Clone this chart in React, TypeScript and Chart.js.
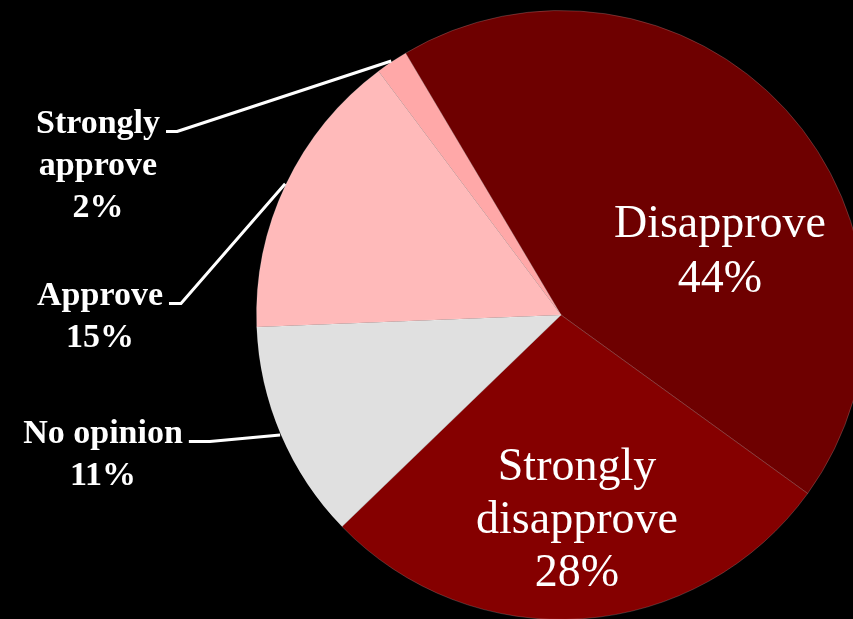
import React, { useEffect, useRef } from "react";
import { Chart, registerables } from "chart.js";

Chart.register(...registerables);

// ---- data ----
const categories = ["Disapprove", "Strongly disapprove", "No opinion", "Approve", "Strongly approve"];
const shares = [43.5, 27.8, 11.6, 15.4, 1.7];
const percentLabels = ["44%", "28%", "11%", "15%", "2%"];
const labelLines = [["Disapprove"], ["Strongly", "disapprove"], ["No opinion"], ["Approve"], ["Strongly", "approve"]];
const sliceColors = ["#6e0000", "#850000", "#e0e0e0", "#ffbaba", "#ffa8a8"];

const insideFont = "46px 'Liberation Serif', 'DejaVu Serif', serif";
const outsideFont = "bold 34px 'Liberation Serif', 'DejaVu Serif', serif";

// label placement relative to pie centre (first-line baseline), leader = elbow length
const labelLayout = [
  { dx: 159, dy: -78, lineHeight: 55, font: insideFont, leader: 0 },
  { dx: 16, dy: 165, lineHeight: 53, font: insideFont, leader: 0 },
  { dx: -458, dy: 128, lineHeight: 42, font: outsideFont, leader: 21 },
  { dx: -461, dy: -10, lineHeight: 42, font: outsideFont, leader: 12 },
  { dx: -463, dy: -182, lineHeight: 42, font: outsideFont, leader: 11 },
];

const labelPlugin = {
  id: "sliceLabels",
  afterDatasetsDraw(chart: any) {
    const ctx = chart.ctx as CanvasRenderingContext2D;
    const meta = chart.getDatasetMeta(0);
    meta.data.forEach((arc: any, i: number) => {
      const cfg = labelLayout[i];
      const p = arc.getProps(["x", "y", "startAngle", "endAngle", "outerRadius"], true);
      const lines = [...labelLines[i], percentLabels[i]];
      ctx.save();
      ctx.fillStyle = "#ffffff";
      ctx.textAlign = "center";
      ctx.textBaseline = "alphabetic";
      ctx.font = cfg.font;
      const bx = p.x + cfg.dx;
      const by = p.y + cfg.dy;
      lines.forEach((t, k) => ctx.fillText(t, bx, by + k * cfg.lineHeight));
      if (cfg.leader) {
        const w = ctx.measureText(lines[0]).width;
        const sx = bx + w / 2 + 6;
        const ly = by - 1.5;
        const mid = (p.startAngle + p.endAngle) / 2;
        const ex = p.x + Math.cos(mid) * (p.outerRadius + 1);
        const ey = p.y + Math.sin(mid) * (p.outerRadius + 1);
        ctx.strokeStyle = "#ffffff";
        ctx.lineWidth = 3;
        ctx.lineJoin = "round";
        ctx.beginPath();
        ctx.moveTo(sx, ly);
        ctx.lineTo(sx + cfg.leader, ly);
        ctx.lineTo(ex, ey);
        ctx.stroke();
      }
      ctx.restore();
    });
  },
};

export default function App() {
  const canvasRef = useRef<HTMLCanvasElement | null>(null);

  useEffect(() => {
    if (!canvasRef.current) return;
    const chart = new Chart(canvasRef.current, {
      type: "pie",
      data: {
        labels: categories,
        datasets: [
          {
            data: shares,
            backgroundColor: sliceColors,
            borderColor: "rgba(255,255,255,0.18)",
            borderWidth: 1,
          },
        ],
      },
      options: {
        responsive: false,
        animation: false,
        rotation: -30.7,
        layout: { padding: { left: 256, right: 14, top: 10, bottom: 10 } },
        plugins: {
          legend: { display: false },
          tooltip: { enabled: false },
        },
      },
      plugins: [labelPlugin],
    });
    return () => chart.destroy();
  }, []);

  return (
    <div
      style={{
        position: "fixed",
        left: 0,
        top: 0,
        width: 853,
        height: 619,
        overflow: "hidden",
        background: "#000000",
      }}
    >
      <canvas ref={canvasRef} width={880} height={630} style={{ display: "block" }} />
    </div>
  );
}
